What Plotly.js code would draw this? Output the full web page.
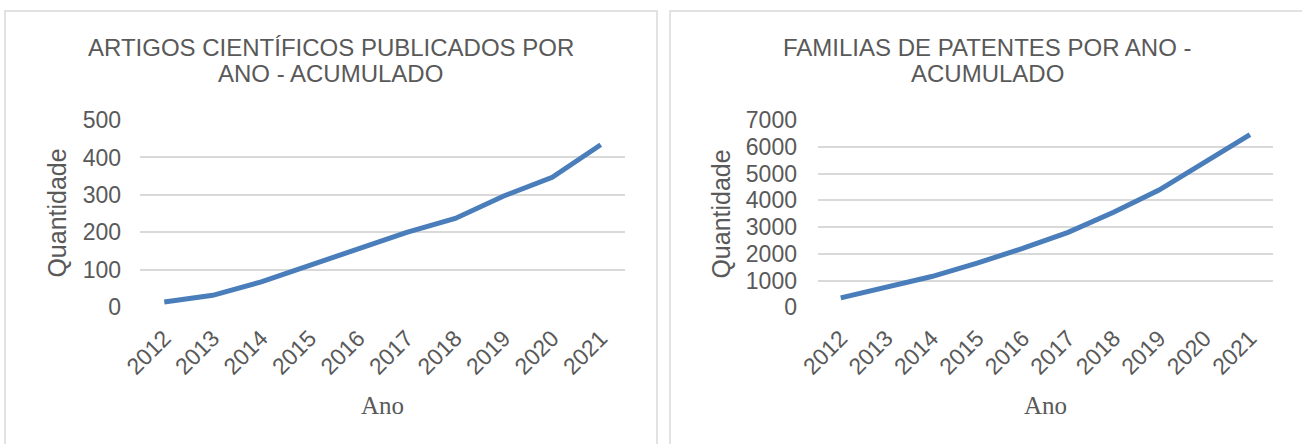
<!DOCTYPE html>
<html>
<head>
<meta charset="utf-8">
<script src="https://cdn.plot.ly/plotly-3.0.1.min.js"></script>
<style>html,body{margin:0;padding:0;background:#fff;}#chart{width:1302px;height:444px;}</style>
</head>
<body>
<div id="chart"></div>
<script>
const years = ["2012","2013","2014","2015","2016","2017","2018","2019","2020","2021"];
const artigos = [14, 32, 68, 112, 153, 200, 237, 297, 347, 434];
const patentes = [350, 760, 1150, 1650, 2200, 2800, 3550, 4380, 5400, 6450];
const titleLeft = ["ARTIGOS CIENTÍFICOS PUBLICADOS POR", "ANO - ACUMULADO"];
const titleRight = ["FAMILIAS DE PATENTES POR ANO -", "ACUMULADO"];
const yTitle = "Quantidade";
const xTitle = "Ano";

const W = 1302, H = 444;
const px = v => v / W;
const py = v => 1 - v / H;
const grey = "#595959";
const gridC = "#d9d9d9";
const sans = "Liberation Sans, Arial, sans-serif";
const serif = "Liberation Serif, Times New Roman, serif";

const lineStyle = {color: "#4a7ebb", width: 5};
const traces = [
  {x: years, y: artigos, type: "scatter", mode: "lines", line: lineStyle, xaxis: "x", yaxis: "y", hoverinfo: "x+y"},
  {x: years, y: patentes, type: "scatter", mode: "lines", line: lineStyle, xaxis: "x2", yaxis: "y2", hoverinfo: "x+y"}
];

const yDom = [py(307.3), py(120)];
const xAxisBase = {
  type: "category", range: [-0.5, years.length - 0.5], tickangle: -45, showgrid: false, zeroline: false, showline: false,
  ticks: "", tickfont: {family: sans, size: 23, color: grey}, ticklabelstandoff: 12, fixedrange: true
};
const yAxisBase = {
  showgrid: true, gridcolor: gridC, gridwidth: 2, zeroline: false, showline: false,
  ticks: "", tickfont: {family: sans, size: 23, color: grey}, fixedrange: true
};

function titleAnns(lines, cx) {
  return lines.map((t, i) => ({
    text: t, xref: "paper", yref: "paper", x: px(cx), y: py(47 + i * 26.5),
    xanchor: "center", yanchor: "middle", showarrow: false,
    font: {family: sans, size: 24, color: grey}
  }));
}

const layout = {
  width: W, height: H,
  margin: {l: 0, r: 0, t: 0, b: 0},
  paper_bgcolor: "#fff", plot_bgcolor: "rgba(0,0,0,0)",
  showlegend: false,
  xaxis: Object.assign({}, xAxisBase, {domain: [px(140), px(625)], anchor: "y"}),
  yaxis: Object.assign({}, yAxisBase, {domain: yDom, range: [0, 500], dtick: 100, anchor: "x", ticklabelstandoff: 18}),
  xaxis2: Object.assign({}, xAxisBase, {domain: [px(818), px(1272.7)], anchor: "y2"}),
  yaxis2: Object.assign({}, yAxisBase, {domain: yDom, range: [0, 7000], dtick: 1000, anchor: "x2", ticklabelstandoff: 20}),
  shapes: [
    {type: "rect", xref: "paper", yref: "paper", x0: px(5), x1: px(657), y0: -0.2, y1: py(11), line: {color: gridC, width: 1.5}},
    {type: "rect", xref: "paper", yref: "paper", x0: px(670), x1: 1.02, y0: -0.2, y1: py(11), line: {color: gridC, width: 1.5}}
  ],
  annotations: [].concat(
    titleAnns(titleLeft, 331),
    titleAnns(titleRight, 987),
    [
      {text: yTitle, xref: "paper", yref: "paper", x: px(57), y: py(213.6), xanchor: "center", yanchor: "middle", textangle: -90, showarrow: false, font: {family: sans, size: 25, color: grey}},
      {text: yTitle, xref: "paper", yref: "paper", x: px(721), y: py(213.6), xanchor: "center", yanchor: "middle", textangle: -90, showarrow: false, font: {family: sans, size: 25, color: grey}},
      {text: xTitle, xref: "paper", yref: "paper", x: px(382.5), y: py(405), xanchor: "center", yanchor: "middle", showarrow: false, font: {family: serif, size: 25, color: grey}},
      {text: xTitle, xref: "paper", yref: "paper", x: px(1045), y: py(405), xanchor: "center", yanchor: "middle", showarrow: false, font: {family: serif, size: 25, color: grey}}
    ]
  )
};

Plotly.newPlot("chart", traces, layout, {displayModeBar: false, staticPlot: true});
</script>
</body>
</html>
